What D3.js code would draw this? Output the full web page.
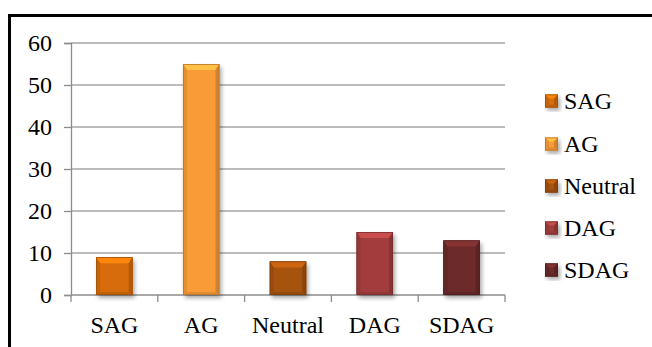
<!DOCTYPE html>
<html>
<head>
<meta charset="utf-8">
<script src="https://cdn.jsdelivr.net/npm/d3@7/dist/d3.min.js"></script>
<style>
  html, body { margin: 0; padding: 0; background: #fff; }
  svg { display: block; }
</style>
</head>
<body>
<svg id="chart" width="652" height="347" font-family="Liberation Serif, Times New Roman, serif" font-size="24"></svg>
<script>
// Response categories and counts
const categories = ["SAG", "AG", "Neutral", "DAG", "SDAG"];
const values = [9, 55, 8, 15, 13];
const yTicks = [0, 10, 20, 30, 40, 50, 60];
const colors = ["#d76c08", "#f99c38", "#a6520e", "#a23e3e", "#6c2929"];

const FONT = "Liberation Serif, Times New Roman, serif";
const FS = 24;

const svg = d3.select("#chart");
const W = 652, H = 347;
const margin = { left: 71, right: 147, top: 43, bottom: 52 };
const plotW = W - margin.left - margin.right;   // 434
const plotH = H - margin.top - margin.bottom;   // 252

// Frame around the chart (top and left edges visible)
svg.append("path")
  .attr("d", `M9.5,${H} L9.5,15.5 L${W},15.5`)
  .attr("fill", "none")
  .attr("stroke", "#000")
  .attr("stroke-width", 3);

const g = svg.append("g").attr("transform", `translate(${margin.left},${margin.top})`);

const x = d3.scaleBand().domain(categories).range([0, plotW]).paddingInner(0.58).paddingOuter(0.29);
const y = d3.scaleLinear().domain([0, 60]).range([plotH, 0]);

// Horizontal gridlines
g.append("g")
  .selectAll("line")
  .data(yTicks.filter(d => d > 0))
  .join("line")
  .attr("x1", 0).attr("x2", plotW)
  .attr("y1", d => y(d)).attr("y2", d => y(d))
  .attr("stroke", "#a6a6a6")
  .attr("stroke-width", 1.3);

// Y axis
const yAxis = g.append("g")
  .call(d3.axisLeft(y).tickValues(yTicks).tickSize(7).tickPadding(12).tickFormat(d3.format("d")))
  .attr("font-family", FONT).attr("font-size", FS);
yAxis.select(".domain").attr("stroke", "#8c8c8c").attr("stroke-width", 1.3);
yAxis.selectAll(".tick line").attr("stroke", "#8c8c8c").attr("stroke-width", 1.3);
yAxis.selectAll(".tick text")
  .attr("font-family", FONT).attr("font-size", FS).attr("fill", "#000").attr("dy", "0.33em");

// X axis with boundary ticks between categories
const xg = g.append("g").attr("transform", `translate(0,${plotH})`);
xg.append("line").attr("x1", 0).attr("x2", plotW).attr("stroke", "#8c8c8c").attr("stroke-width", 1.3);
const step = plotW / categories.length;
xg.selectAll("line.tk")
  .data(d3.range(categories.length + 1))
  .join("line")
  .attr("class", "tk")
  .attr("x1", i => i * step).attr("x2", i => i * step)
  .attr("y1", 0).attr("y2", 7)
  .attr("stroke", "#8c8c8c").attr("stroke-width", 1.3);
xg.selectAll("text")
  .data(categories)
  .join("text")
  .attr("x", d => x(d) + x.bandwidth() / 2)
  .attr("y", 38)
  .attr("text-anchor", "middle")
  .attr("font-family", FONT)
  .attr("font-size", FS)
  .attr("fill", "#000")
  .text(d => d);

// Soft shadow below/right of each bar
const defs = svg.append("defs");
const f = defs.append("filter").attr("id", "shadow").attr("x", "-20%").attr("y", "-20%").attr("width", "150%").attr("height", "150%");
f.append("feGaussianBlur").attr("in", "SourceAlpha").attr("stdDeviation", 2);
f.append("feOffset").attr("dx", 2).attr("dy", 3).attr("result", "ob");
f.append("feComponentTransfer").append("feFuncA").attr("type", "linear").attr("slope", 0.35);
const fm = f.append("feMerge");
fm.append("feMergeNode");
fm.append("feMergeNode").attr("in", "SourceGraphic");

// Bevelled bar: base rect plus lighter top and darker side/bottom facets
function bevel(sel, bx, by, bw, bh, col, bt, bs, bb) {
  const c = d3.color(col);
  const x0 = bx, x1 = bx + bw, y0 = by, y1 = by + bh;
  const t = Math.min(bt, bh / 2), s = Math.min(bs, bw / 2), b = Math.min(bb, bh / 2);
  sel.append("rect").attr("x", x0).attr("y", y0).attr("width", bw).attr("height", bh)
    .attr("fill", col).attr("filter", "url(#shadow)");
  // top facet
  sel.append("path").attr("d", `M${x0},${y0} L${x1},${y0} L${x1 - s},${y0 + t} L${x0 + s},${y0 + t} Z`)
    .attr("fill", c.brighter(0.6));
  // left facet
  sel.append("path").attr("d", `M${x0},${y0} L${x0 + s},${y0 + t} L${x0 + s},${y1 - b} L${x0},${y1} Z`)
    .attr("fill", c.darker(0.25));
  // right facet
  sel.append("path").attr("d", `M${x1},${y0} L${x1 - s},${y0 + t} L${x1 - s},${y1 - b} L${x1},${y1} Z`)
    .attr("fill", c.darker(0.5));
  // bottom facet
  sel.append("path").attr("d", `M${x0},${y1} L${x0 + s},${y1 - b} L${x1 - s},${y1 - b} L${x1},${y1} Z`)
    .attr("fill", c.darker(0.3));
  sel.append("rect").attr("x", x0 + 0.4).attr("y", y0 + 0.4).attr("width", bw - 0.8).attr("height", bh - 0.8)
    .attr("fill", "none").attr("stroke", c.darker(0.8)).attr("stroke-width", 0.8);
}

const bars = g.append("g");
categories.forEach((cat, i) => {
  const bg = bars.append("g");
  const bx = x(cat), bw = x.bandwidth();
  const by = y(values[i]), bh = y(0) - y(values[i]);
  bevel(bg, bx, by, bw, bh, colors[i], 6, 4, 3);
});

// Legend
const legend = svg.append("g").attr("transform", "translate(545,0)");
const legendY = [101, 144, 186, 228, 270];
categories.forEach((cat, i) => {
  const lg = legend.append("g").attr("transform", `translate(0,${legendY[i]})`);
  bevel(lg, 0, -6.5, 13, 13, colors[i], 4, 4, 3);
  lg.append("text").attr("x", 19).attr("y", 0).attr("dy", "0.35em")
    .attr("font-family", FONT).attr("font-size", FS).attr("fill", "#000")
    .text(cat);
});
</script>
</body>
</html>
